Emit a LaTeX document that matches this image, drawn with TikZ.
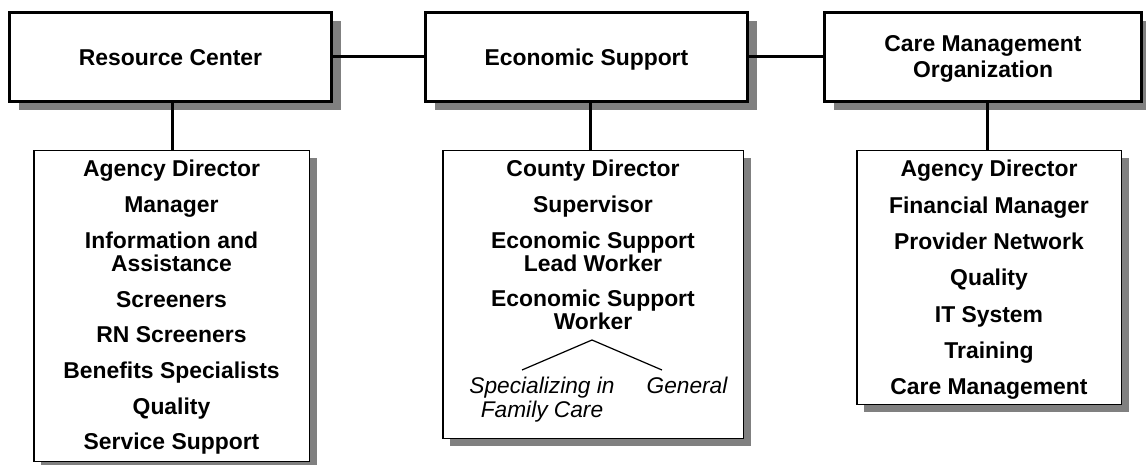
\documentclass[tikz,border=0pt]{standalone}
\usepackage{fontspec}
\setmainfont{Liberation Sans}
\usetikzlibrary{shadows}
\definecolor{shade}{HTML}{808080}
\begin{document}
\begin{tikzpicture}[x=1pt,y=-1pt,
  unitbox/.style={draw=black, line width=3pt, fill=white, inner sep=0pt,
    minimum height=89pt,
    drop shadow={shadow xshift=9pt, shadow yshift=-9pt, opacity=1, fill=shade}},
  staffbox/.style={draw=black, line width=1.5pt, fill=white, inner sep=0pt,
    drop shadow={shadow xshift=7.5pt, shadow yshift=-7.5pt, opacity=1, fill=shade}},
  link/.style={line width=3pt},
  branch/.style={line width=1.2pt},
  lbl/.style={font=\fontsize{22.9}{23}\selectfont\bfseries, inner sep=0pt, anchor=base},
  sublbl/.style={font=\fontsize{22.7}{23}\selectfont\itshape, inner sep=0pt, anchor=base}]
\clip (0,0) rectangle (1146,465);
\fill[white] (0,0) rectangle (1146,465);

% top row of units
\node[unitbox, minimum width=322pt] (rc) at (170.5,57) {};
\node[unitbox, minimum width=322pt] (es) at (586.5,57) {};
\node[unitbox, minimum width=317pt] (cmo) at (983,57) {};
\node[lbl] (rct) at (170.5,66) {Resource Center};
\node[lbl] (est) at (586.5,66) {Economic Support};
\node[lbl] (cmot1) at (983,52) {Care Management};
\node[lbl] (cmot2) at (983,78) {Organization};

% staff boxes
\node[staffbox, minimum width=275.5pt, minimum height=310.5pt] (rcl) at (171.5,306) {};
\node[staffbox, minimum width=300.5pt, minimum height=287.5pt] (esl) at (593,294.5) {};
\node[staffbox, minimum width=264.5pt, minimum height=253.5pt] (cmol) at (989,277.5) {};

% connectors
\draw[link] (rc.east) -- (es.west);
\draw[link] (es.east) -- (cmo.west);
\coordinate (rcj) at (172,150);
\coordinate (esj) at (590,150);
\coordinate (cmoj) at (987,150);
\draw[link] (rcj |- rc.south) -- (rcj);
\draw[link] (esj |- es.south) -- (esj);
\draw[link] (cmoj |- cmo.south) -- (cmoj);

% Resource Center staff
\node[lbl] (r1) at (171.5,177) {Agency Director};
\node[lbl] (r2) at (171.5,212.7) {Manager};
\node[lbl] (r3) at (171.5,248.4) {Information and};
\node[lbl] (r3b) at (171.5,271.4) {Assistance};
\node[lbl] (r4) at (171.5,307.1) {Screeners};
\node[lbl] (r5) at (171.5,342.8) {RN Screeners};
\node[lbl] (r6) at (171.5,378.5) {Benefits Specialists};
\node[lbl] (r7) at (171.5,414.2) {Quality};
\node[lbl] (r8) at (171.5,449.9) {Service Support};

% Economic Support staff
\node[lbl] (e1) at (593,177) {County Director};
\node[lbl] (e2) at (593,213) {Supervisor};
\node[lbl] (e3) at (593,249) {Economic Support};
\node[lbl] (e3b) at (593,272) {Lead Worker};
\node[lbl] (e4) at (593,306) {Economic Support};
\node[lbl] (e4b) at (593,329) {Worker};
\coordinate (apex) at (592,340);
\coordinate (treel) at (522,370);
\coordinate (treer) at (662,370);
\draw[branch] (treel) -- (apex) -- (treer);
\node[sublbl] (s1) at (542,393) {Specializing in};
\node[sublbl] (s1b) at (542,417) {Family Care};
\node[sublbl] (s2) at (687,393) {General};

% Care Management Organization staff
\node[lbl] (c1) at (989,177) {Agency Director};
\node[lbl] (c2) at (989,213.3) {Financial Manager};
\node[lbl] (c3) at (989,249.6) {Provider Network};
\node[lbl] (c4) at (989,285.9) {Quality};
\node[lbl] (c5) at (989,322.2) {IT System};
\node[lbl] (c6) at (989,358.5) {Training};
\node[lbl] (c7) at (989,394.8) {Care Management};
\end{tikzpicture}
\end{document}
